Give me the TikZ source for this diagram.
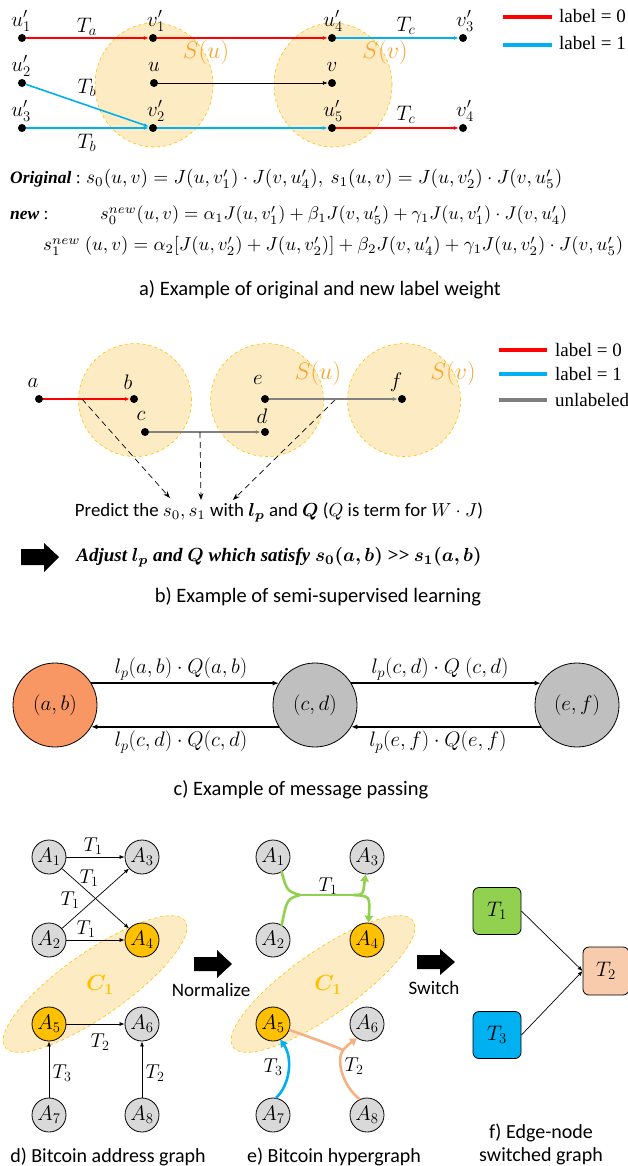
\RequirePackage{fix-cm}
\documentclass[tikz,border=0pt]{standalone}
\usepackage{graphicx}
\usepackage{amsmath}
\usepackage{bm}
\usepackage[no-math]{fontspec}
\setmainfont{Carlito}
\newfontfamily\timesf{Liberation Serif}
\usetikzlibrary{arrows.meta,shapes.geometric,calc}
\definecolor{cRed}{RGB}{255,0,0}
\definecolor{cBlue}{RGB}{0,176,240}
\definecolor{cGray}{RGB}{128,128,128}
\definecolor{cEllFill}{RGB}{253,235,195}
\definecolor{cEllLine}{RGB}{255,192,0}
\definecolor{cSText}{RGB}{247,163,40}
\definecolor{cGold}{RGB}{255,192,0}
\definecolor{cNodeGray}{RGB}{217,217,217}
\definecolor{cCircGray}{RGB}{191,191,191}
\definecolor{cSalmon}{RGB}{248,150,100}
\definecolor{cGreen}{RGB}{146,208,80}
\definecolor{cPeach}{RGB}{244,177,131}
\definecolor{cPeachBox}{RGB}{248,203,173}
\tikzset{
  dot/.style={circle,fill=black,inner sep=0pt,minimum size=8pt},
  mlab/.style={font=\fontsize{21}{24}\selectfont,inner sep=0pt},
  slab/.style={font=\fontsize{24}{28}\selectfont,text=cSText,inner sep=0pt},
  sset/.style={ellipse,draw=cEllLine,dashed,fill=cEllFill,line width=0.6pt,inner sep=0pt},
  redE/.style={draw=cRed,line width=1.6pt,-{Latex[length=5pt,width=4pt]}},
  blueE/.style={draw=cBlue,line width=1.6pt,-{Latex[length=5pt,width=4pt]}},
  grayE/.style={draw=cGray,line width=2pt,-{Latex[length=5pt,width=4pt]}},
  blackE/.style={draw=black,line width=0.8pt,-{Latex[length=5pt,width=4pt]}},
  legline/.style={line width=4pt},
  legtxt/.style={font=\timesf\fontsize{19}{22}\selectfont,anchor=west,inner sep=0pt},
  captxt/.style={font=\fontsize{20.5}{23}\selectfont,inner sep=0pt},
  captxtS/.style={font=\fontsize{20}{23}\selectfont,inner sep=0pt},
  dashA/.style={dash pattern=on 6pt off 4pt,line width=0.7pt,-{Stealth[length=7pt,width=5pt]}},
  bigC/.style={ellipse,draw,line width=0.8pt,minimum width=84pt,minimum height=84pt,font=\fontsize{21}{24}\selectfont},
  msgA/.style={line width=1.4pt,-{Latex[length=6pt,width=5pt]}},
  anode/.style={circle,draw,line width=0.8pt,fill=cNodeGray,minimum size=34pt,inner sep=0pt,font=\fontsize{21}{24}\selectfont},
  gnode/.style={anode,fill=cGold},
  thinA/.style={line width=0.7pt,-{Latex[length=5pt,width=4pt]}},
  tl/.style={font=\fontsize{20}{22}\selectfont,inner sep=0pt},
  cset/.style={ellipse,draw=cEllLine,dashed,fill=cEllFill,line width=0.6pt,minimum width=220pt,minimum height=64pt,rotate=35,inner sep=0pt},
  clab/.style={font=\bfseries\fontsize{22}{24}\selectfont,text=cGold,inner sep=0pt},
  hypG/.style={draw=cGreen,line width=2.6pt},
  hypB/.style={draw=cBlue,line width=2.6pt},
  hypP/.style={draw=cPeach,line width=2.6pt},
  fbox/.style={rectangle,rounded corners=6pt,draw,line width=0.8pt,minimum width=48pt,minimum height=47pt,font=\fontsize{21}{24}\selectfont}
}
\begin{document}
\begin{tikzpicture}[x=1pt,y=-1pt]
\useasboundingbox (0,0) rectangle (628,1166);
% ================= part a =================
\node[sset,minimum width=118pt,minimum height=124pt] (Su) at (154,85) {};
\node[sset,minimum width=118pt,minimum height=124pt] (Sv) at (333,85) {};
\node[slab] (SuL) at (206,53) {$S(u)$};
\node[slab] (SvL) at (385,53) {$S(v)$};
\node[dot] (u1) at (22,38) {};
\node[dot] (v1) at (153,38) {};
\node[dot] (u4) at (332,38) {};
\node[dot] (v3) at (463,38) {};
\node[dot] (u2) at (22,83) {};
\node[dot] (uu) at (154,83) {};
\node[dot] (vv) at (332,83) {};
\node[dot] (u3) at (22,128) {};
\node[dot] (v2) at (153,128) {};
\node[dot] (u5) at (332,128) {};
\node[dot] (v4) at (463,128) {};
\node[mlab] (lu1) at (21,21) {$u_1'$};
\node[mlab] (lv1) at (156,21) {$v_1'$};
\node[mlab] (lu4) at (333,21) {$u_4'$};
\node[mlab] (lv3) at (465,21) {$v_3'$};
\node[mlab] (lu2) at (21,66) {$u_2'$};
\node[mlab] (lu) at (154,67) {$u$};
\node[mlab] (lv) at (332,67) {$v$};
\node[mlab] (lu3) at (21,111) {$u_3'$};
\node[mlab] (lv2) at (156,111) {$v_2'$};
\node[mlab] (lu5) at (333,111) {$u_5'$};
\node[mlab] (lv4) at (465,111) {$v_4'$};
\draw[redE] (u1) -- (v1);
\draw[redE] (v1) -- (u4);
\draw[blueE] (u4) -- (v3);
\draw[blueE] (u2) -- (v2);
\draw[blueE] (u3) -- (v2);
\draw[blueE] (v2) -- (u5);
\draw[redE] (u5) -- (v4);
\draw[blackE] (uu) -- (vv);
\node[mlab] (Ta) at (87,27) {$T_a$};
\node[mlab] (Tb1) at (87,88) {$T_b$};
\node[mlab] (Tb2) at (87,143) {$T_b$};
\node[mlab] (Tc1) at (406,26) {$T_c$};
\node[mlab] (Tc2) at (406,115) {$T_c$};
\coordinate (la0s) at (503,17); \coordinate (la0e) at (552,17);
\coordinate (la1s) at (503,45); \coordinate (la1e) at (552,45);
\draw[legline,cRed] (la0s) -- (la0e);
\draw[legline,cBlue] (la1s) -- (la1e);
\node[legtxt] (la0t) at (559,16) {label = 0};
\node[legtxt] (la1t) at (559,43) {label = 1};
% formulas
\node[anchor=base west,inner sep=0pt,font=\timesf\fontsize{17.5}{20}\selectfont] (origT) at (10,184) {{\bfseries\itshape Original} :};
\node[anchor=base west,inner sep=0pt] (f1) at (86,184) {\resizebox{476pt}{!}{$s_0(u,v)=J(u,v_1')\cdot J(v,u_4'),\ s_1(u,v)=J(u,v_2')\cdot J(v,u_5')$}};
\node[anchor=base west,inner sep=0pt,font=\timesf\fontsize{17.5}{20}\selectfont] (newT) at (10,220) {{\bfseries\itshape new} :};
\node[anchor=base west,inner sep=0pt] (f2) at (100,220) {\resizebox{467pt}{!}{$s_0^{new}(u,v)=\alpha_1J(u,v_1')+\beta_1J(v,u_5')+\gamma_1J(u,v_1')\cdot J(v,u_4')$}};
\node[anchor=base west,inner sep=0pt] (f3) at (43,251) {\resizebox{580pt}{!}{$s_1^{new}\ (u,v)=\alpha_2[J(u,v_2')+J(u,v_2')]+\beta_2J(v,u_4')+\gamma_1J(u,v_2')\cdot J(v,u_5')$}};
\node[captxt] (capA) at (320,290) {a) Example of original and new label weight};
% ================= part b =================
\node[sset,minimum width=113pt,minimum height=113pt] (B1) at (135,400) {};
\node[sset,minimum width=113pt,minimum height=113pt] (B2) at (267,400) {};
\node[sset,minimum width=113pt,minimum height=113pt] (B3) at (404,400) {};
\node[slab] (BSu) at (318,373) {$S(u)$};
\node[slab] (BSv) at (453,373) {$S(v)$};
\node[dot] (pa) at (39,399) {};
\node[dot] (pb) at (134,399) {};
\node[dot] (pc) at (145,432) {};
\node[dot] (pd) at (265,432) {};
\node[dot] (pe) at (265,399) {};
\node[dot] (pf) at (402,399) {};
\node[mlab] (la) at (33,383) {$a$};
\node[mlab] (lb) at (128,382) {$b$};
\node[mlab] (lc) at (141,416) {$c$};
\node[mlab] (ld) at (262,416) {$d$};
\node[mlab] (le) at (258,380) {$e$};
\node[mlab] (lf) at (396,382) {$f$};
\draw[redE] (pa) -- (pb);
\draw[grayE] (pc) -- (pd);
\draw[grayE] (pe) -- (pf);
\coordinate (ds1) at (82,399); \coordinate (de1) at (170,498);
\coordinate (ds2) at (200,432); \coordinate (de2) at (201,500);
\coordinate (ds3) at (335,400); \coordinate (de3) at (233,500);
\draw[dashA] (ds1) -- (de1);
\draw[dashA] (ds2) -- (de2);
\draw[dashA] (ds3) -- (de3);
\coordinate (lb0s) at (499,350); \coordinate (lb0e) at (547,350);
\coordinate (lb1s) at (499,374); \coordinate (lb1e) at (547,374);
\coordinate (lb2s) at (499,400); \coordinate (lb2e) at (547,400);
\draw[legline,cRed] (lb0s) -- (lb0e);
\draw[legline,cBlue] (lb1s) -- (lb1e);
\draw[legline,cGray] (lb2s) -- (lb2e);
\node[legtxt] (lb0t) at (555,350) {label = 0};
\node[legtxt] (lb1t) at (555,374) {label = 1};
\node[legtxt] (lb2t) at (555,400) {unlabeled};
\node[inner sep=0pt] (pred) at (279,512) {\resizebox{408pt}{!}{Predict the $s_0,s_1$ with $\bm{l_p}$ and $\bm{Q}$ ($Q$ is term for $W\cdot J$)}};
\fill (21,549) -- (44,549) -- (44,543) -- (59,557) -- (44,572) -- (44,565) -- (21,565) -- cycle;
\node[inner sep=0pt] (adj) at (279,557) {\resizebox{405pt}{!}{\timesf\bfseries\itshape Adjust $\bm{l_p}$ and $\bm{Q}$ which satisfy $\bm{s_0(a,b)}$ >> $\bm{s_1(a,b)}$}};
\node[captxt] (capB) at (318,597) {b) Example of semi-supervised learning};
% ================= part c =================
\node[bigC,fill=cSalmon] (ab) at (55,705) {$(a,b)$};
\node[bigC,fill=cCircGray] (cd) at (315,705) {$(c,d)$};
\node[bigC,fill=cCircGray] (ef) at (577,705) {$(e,f)$};
\draw[msgA] (ab.31) -- (cd.149);
\draw[msgA] (cd.211) -- (ab.329);
\draw[msgA] (cd.31) -- (ef.149);
\draw[msgA] (ef.211) -- (cd.329);
\node[mlab] (m1) at (181,669) {$l_p(a,b)\cdot Q(a,b)$};
\node[mlab] (m2) at (440,669) {$l_p(c,d)\cdot Q\ (c,d)$};
\node[mlab] (m3) at (181,742) {$l_p(c,d)\cdot Q(c,d)$};
\node[mlab] (m4) at (438,742) {$l_p(e,f)\cdot Q(e,f)$};
\node[captxt] (capC) at (301,790) {c) Example of message passing};
% ================= part d =================
\node[cset] (dC) at (95,984) {};
\node[clab] (dCl) at (100,985) {$\bm{C_1}$};
\node[anode] (dA1) at (49,857) {$A_1$};
\node[anode] (dA3) at (142,857) {$A_3$};
\node[anode] (dA2) at (49,940) {$A_2$};
\node[gnode] (dA4) at (142,940) {$A_4$};
\node[gnode] (dA5) at (49,1024) {$A_5$};
\node[anode] (dA6) at (142,1024) {$A_6$};
\node[anode] (dA7) at (49,1115) {$A_7$};
\node[anode] (dA8) at (142,1115) {$A_8$};
\draw[thinA] (dA1) -- (dA3);
\draw[thinA] (dA1) -- (dA4);
\draw[thinA] (dA2) -- (dA3);
\draw[thinA] (dA2) -- (dA4);
\draw[thinA] (dA5) -- (dA6);
\draw[thinA] (dA7) -- (dA5);
\draw[thinA] (dA8) -- (dA6);
\node[tl] (dT1a) at (93,846) {$T_1$};
\node[tl] (dT1b) at (89,878) {$T_1$};
\node[tl] (dT1c) at (70,900) {$T_1$};
\node[tl] (dT1d) at (86,929) {$T_1$};
\node[tl] (dT2a) at (100,1042) {$T_2$};
\node[tl] (dT3) at (62,1073) {$T_3$};
\node[tl] (dT2b) at (155,1073) {$T_2$};
\fill (194,957) -- (217,957) -- (217,950) -- (232,964) -- (217,978) -- (217,971) -- (194,971) -- cycle;
\node[font=\fontsize{19}{22}\selectfont,inner sep=0pt] (norm) at (211,990) {Normalize};
\node[captxtS] (capD) at (108,1157) {d) Bitcoin address graph};
% ================= part e =================
\node[cset] (eC) at (323,984) {};
\node[clab] (eCl) at (328,985) {$\bm{C_1}$};
\node[anode] (eA1) at (273,857) {$A_1$};
\node[anode] (eA3) at (367,857) {$A_3$};
\node[anode] (eA2) at (273,940) {$A_2$};
\node[gnode] (eA4) at (367,940) {$A_4$};
\node[gnode] (eA5) at (273,1024) {$A_5$};
\node[anode] (eA6) at (367,1024) {$A_6$};
\node[anode] (eA7) at (273,1115) {$A_7$};
\node[anode] (eA8) at (367,1115) {$A_8$};
\coordinate (J1) at (300,895);
\coordinate (J2) at (354,895);
\coordinate (J3) at (343,1050);
\draw[hypG,line cap=round] (eA1.-60) .. controls (287,891) .. (J1);
\draw[hypG,line cap=round] (eA2.60) .. controls (287,899) .. (J1);
\draw[hypG] (J1) -- (J2);
\draw[hypG,-{Triangle[length=7pt,width=8pt]}] (J2) .. controls (363,895) .. (eA3.-95);
\draw[hypG,-{Triangle[length=7pt,width=8pt]}] (J2) .. controls (370,896) .. (eA4.85);
\draw[hypB,-{Triangle[length=7pt,width=8pt]}] (eA7.80) .. controls (290,1085) and (293,1058) .. (eA5.-65);
\draw[hypP] (eA5.-20) .. controls (318,1040) and (334,1046) .. (J3);
\draw[hypP] (eA8.115) .. controls (342,1085) and (336,1060) .. (J3);
\draw[hypP,-{Triangle[length=7pt,width=8pt]}] (J3) .. controls (349,1044) .. (eA6.-125);
\node[tl] (eT1) at (328,886) {$T_1$};
\node[tl] (eT3) at (273,1067) {$T_3$};
\node[tl] (eT2) at (354,1066) {$T_2$};
\fill (417,955) -- (440,955) -- (440,949) -- (455,962) -- (440,975) -- (440,969) -- (417,969) -- cycle;
\node[font=\fontsize{19}{22}\selectfont,inner sep=0pt] (sw) at (434,988) {Switch};
\node[captxtS] (capE) at (334,1157) {e) Bitcoin hypergraph};
% ================= part f =================
\node[fbox,fill=cGreen] (fT1) at (497,911) {$T_1$};
\node[fbox,fill=cBlue] (fT3) at (497,1035) {$T_3$};
\node[fbox,fill=cPeachBox,minimum width=46pt,minimum height=48pt] (fT2) at (606,971) {$T_2$};
\draw[thinA] (fT1.east) -- (fT2.west);
\draw[thinA] (fT3.east) -- (fT2.west);
\node[captxtS,align=center] (capF) at (541,1144) {f) Edge-node\\switched graph};
\end{tikzpicture}
\end{document}
